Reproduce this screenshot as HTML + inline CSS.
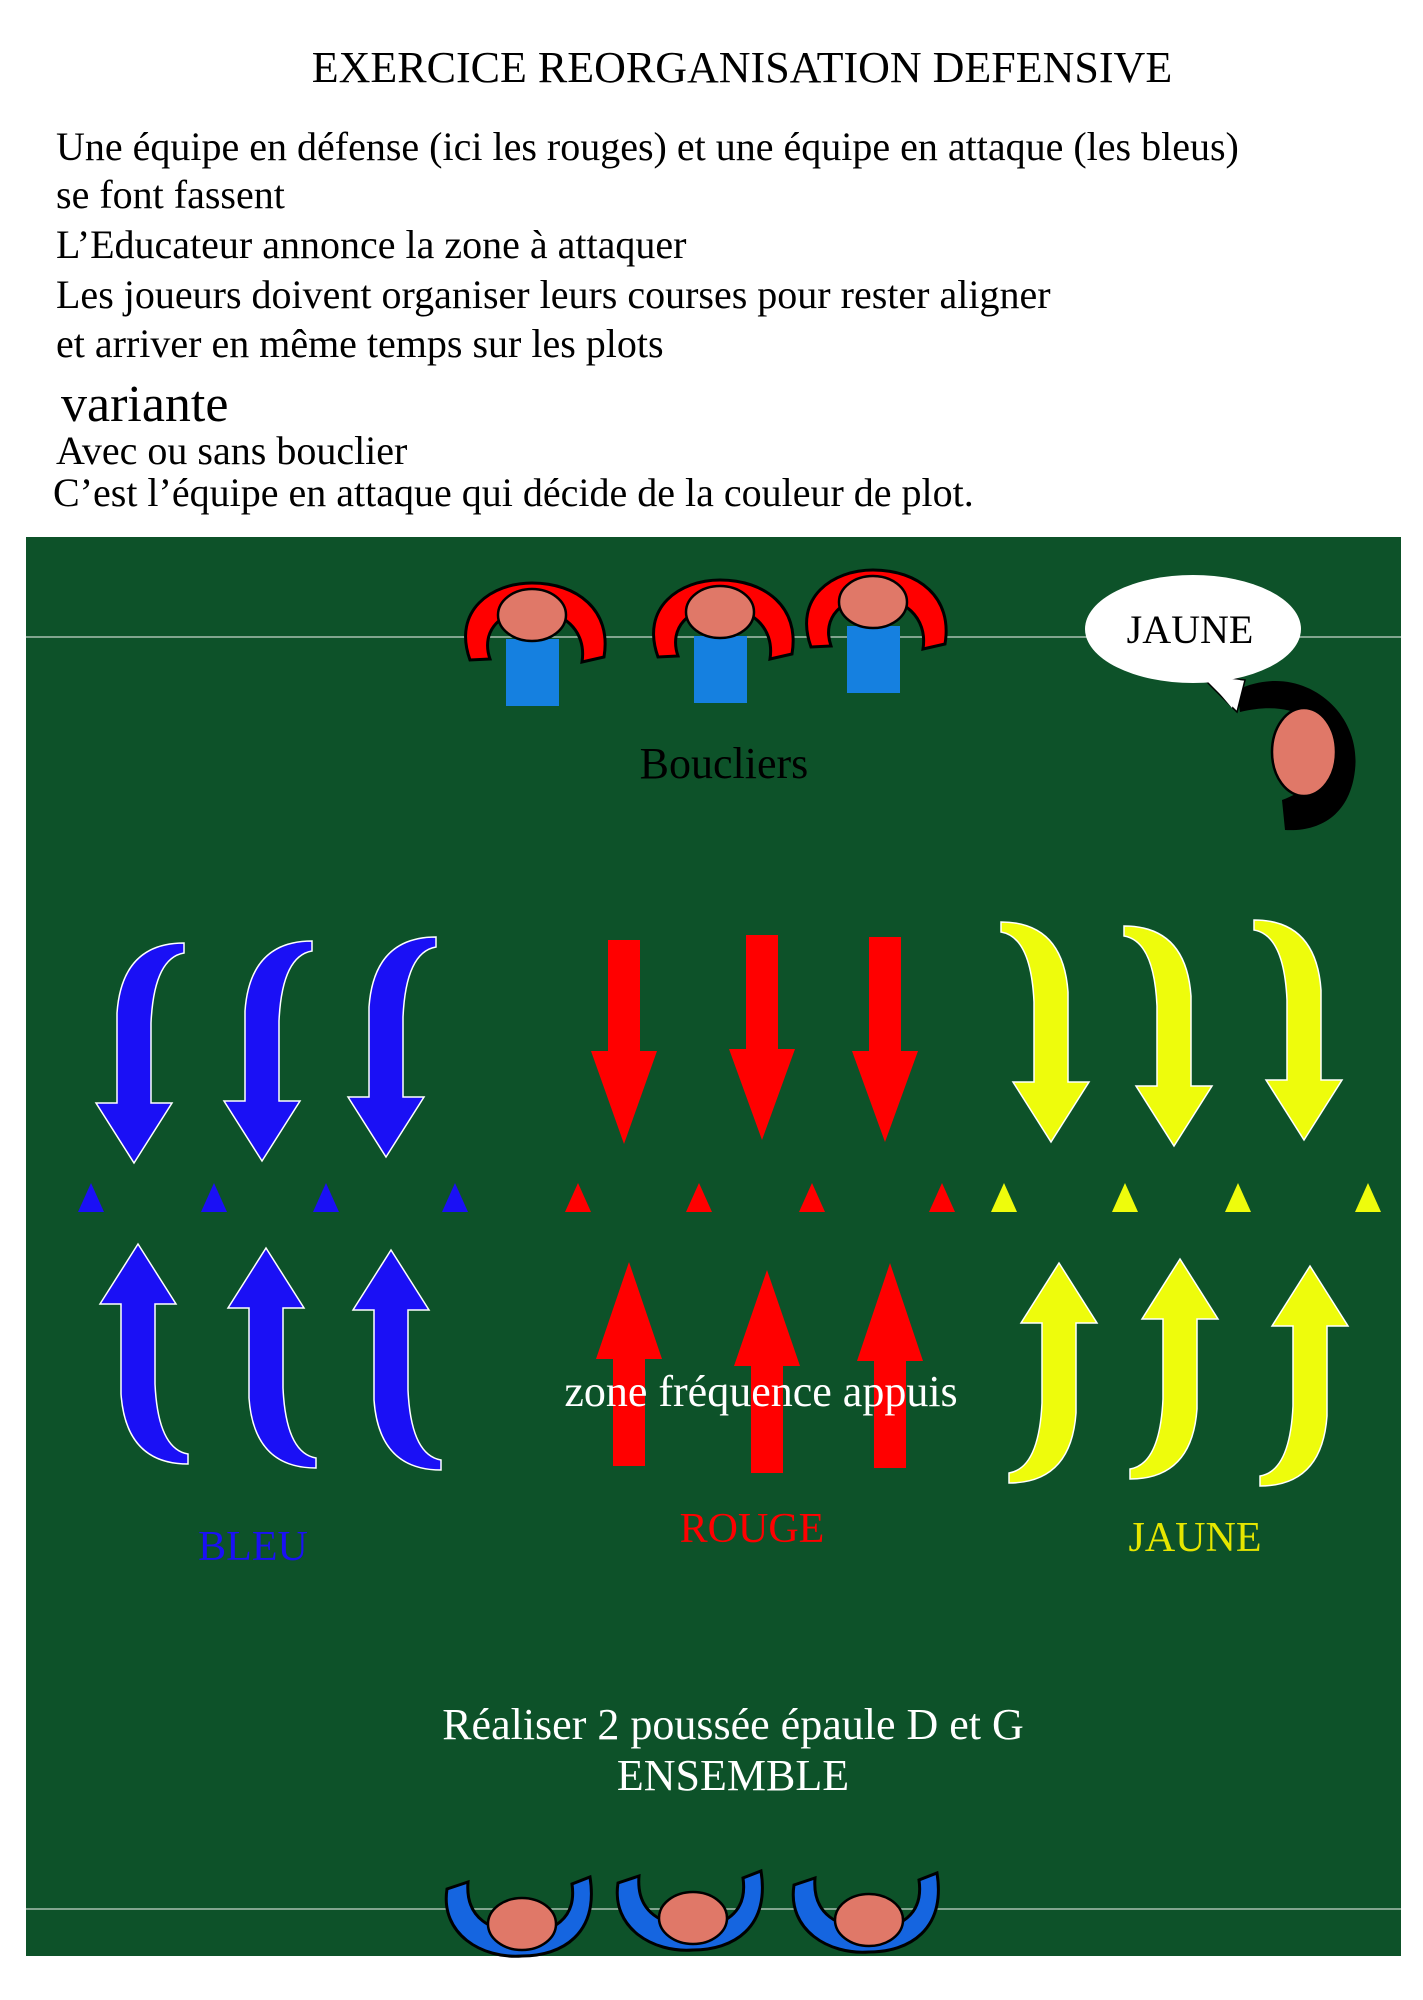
<!DOCTYPE html>
<html><head><meta charset="utf-8"><style>
html,body{margin:0;padding:0;background:#fff;}
svg{display:block;}
text{font-family:"Liberation Serif",serif;}
</style></head><body>
<svg width="1423" height="2000" viewBox="0 0 1423 2000" xmlns="http://www.w3.org/2000/svg">
<text x="742" y="82" font-size="44" text-anchor="middle" fill="#000">EXERCICE REORGANISATION DEFENSIVE</text>
<g font-size="40" fill="#000">
<text x="56" y="160">Une équipe en défense (ici les rouges) et une équipe en attaque (les bleus)</text>
<text x="56" y="208">se font fassent</text>
<text x="56" y="258">L’Educateur annonce la zone à attaquer</text>
<text x="56" y="308">Les joueurs doivent organiser leurs courses pour rester aligner</text>
<text x="56" y="357">et arriver en même temps sur les plots</text>
<text x="61" y="421" font-size="52">variante</text>
<text x="56" y="464">Avec ou sans bouclier</text>
<text x="53" y="506">C’est l’équipe en attaque qui décide de la couleur de plot.</text>
</g>
<rect x="26" y="537" width="1375" height="1419" fill="#0d5229"/>
<line x1="26" y1="637" x2="1401" y2="637" stroke="#a8c0b0" stroke-width="1.5"/>
<line x1="26" y1="1909" x2="1401" y2="1909" stroke="#a8c0b0" stroke-width="1.5"/>
<defs>
<g id="rp">
<rect x="-26" y="24" width="53" height="67" fill="#1580e0"/>
<path d="M -62,45 C -80,-5 -40,-32 0,-32 C 45,-32 80,-5 72,42 L 50,47 C 55,15 30,-5 0,-5 C -30,-5 -52,15 -42,44 Z" fill="#f00" stroke="#000" stroke-width="3"/>
<ellipse cx="0" cy="0" rx="34" ry="26" fill="#e07868" stroke="#000" stroke-width="2.5"/>
</g>
<g id="bp">
<path d="M -75,-35 C -82,10 -40,35 0,32 C 40,32 77,10 68,-47 L 50,-40 C 55,-5 30,10 0,8 C -30,8 -57,-5 -54,-42 Z" fill="#1565e0" stroke="#000" stroke-width="3"/>
<ellipse cx="0" cy="0" rx="34" ry="26" fill="#e07868" stroke="#000" stroke-width="2.5"/>
</g>
<path id="ca" d="M 50,-220 L 50,-210 Q 20,-205 17,-140 L 17,-60 L 38,-60 L 0,0 L -38,-60 L -17,-60 L -17,-150 Q -12,-220 50,-220 Z"/>
</defs>
<use href="#rp" transform="translate(532,615)"/>
<use href="#rp" transform="translate(720,612)"/>
<use href="#rp" transform="translate(873,602)"/>
<text x="724" y="778" font-size="44" text-anchor="middle" fill="#000">Boucliers</text>
<path d="M 1237,690 C 1300,660 1362,710 1355,770 C 1350,815 1320,832 1285,830 L 1282,800 C 1310,790 1325,770 1320,740 C 1315,712 1280,702 1240,712 Z" fill="#000"/>
<ellipse cx="1304" cy="752" rx="32" ry="44" fill="#e07868" stroke="#000" stroke-width="2.5"/>
<path d="M 1200,675 L 1237,712 L 1245,680 Z" fill="#fff" stroke="#000" stroke-width="1.5"/>
<ellipse cx="1193" cy="629" rx="108" ry="54" fill="#fff"/>
<path d="M 1205,676 L 1232,708 L 1240,680 Z" fill="#fff"/>
<text x="1190" y="643" font-size="40" text-anchor="middle" fill="#000">JAUNE</text>
<g fill="#1a10f5" stroke="#fff" stroke-width="1.5">
<use href="#ca" transform="translate(134,1163)"/>
<use href="#ca" transform="translate(262,1161)"/>
<use href="#ca" transform="translate(386,1157)"/>
<use href="#ca" transform="translate(138,1244) scale(1,-1)"/>
<use href="#ca" transform="translate(266,1248) scale(1,-1)"/>
<use href="#ca" transform="translate(391,1250) scale(1,-1)"/>
</g>
<g fill="#eefc0c" stroke="#fff" stroke-width="1.5">
<use href="#ca" transform="translate(1051,1142) scale(-1,1)"/>
<use href="#ca" transform="translate(1174,1146) scale(-1,1)"/>
<use href="#ca" transform="translate(1304,1140) scale(-1,1)"/>
<use href="#ca" transform="translate(1059,1263) scale(-1,-1)"/>
<use href="#ca" transform="translate(1180,1259) scale(-1,-1)"/>
<use href="#ca" transform="translate(1310,1266) scale(-1,-1)"/>
</g>
<g fill="#ff0000">
<rect x="608" y="940" width="32" height="112"/><polygon points="591,1051 657,1051 624,1144"/>
<rect x="746" y="935" width="32" height="115"/><polygon points="729,1049 795,1049 762,1140"/>
<rect x="869" y="937" width="32" height="115"/><polygon points="852,1051 918,1051 885,1142"/>
<rect x="613" y="1358" width="32" height="108"/><polygon points="596,1359 662,1359 629,1262"/>
<rect x="751" y="1365" width="32" height="108"/><polygon points="734,1366 800,1366 767,1270"/>
<rect x="874" y="1360" width="32" height="108"/><polygon points="857,1361 923,1361 890,1263"/>
</g>
<g fill="#1a10f5">
<polygon points="78,1212 104,1212 91,1183"/><polygon points="201,1212 227,1212 214,1183"/>
<polygon points="313,1212 339,1212 326,1183"/><polygon points="442,1212 468,1212 455,1183"/>
</g>
<g fill="#ff0000">
<polygon points="565,1212 591,1212 578,1183"/><polygon points="686,1212 712,1212 699,1183"/>
<polygon points="799,1212 825,1212 812,1183"/><polygon points="929,1212 955,1212 942,1183"/>
</g>
<g fill="#eefc0c">
<polygon points="991,1212 1017,1212 1004,1183"/><polygon points="1112,1212 1138,1212 1125,1183"/>
<polygon points="1225,1212 1251,1212 1238,1183"/><polygon points="1355,1212 1381,1212 1368,1183"/>
</g>
<text x="761" y="1406" font-size="44" text-anchor="middle" fill="#fff">zone fréquence appuis</text>
<text x="253" y="1560" font-size="42" text-anchor="middle" fill="#1a10f5">BLEU</text>
<text x="752" y="1542" font-size="42" text-anchor="middle" fill="#ff0000">ROUGE</text>
<text x="1195" y="1551" font-size="42" text-anchor="middle" fill="#e6e600">JAUNE</text>
<text x="733" y="1739" font-size="44" text-anchor="middle" fill="#fff">Réaliser 2 poussée épaule D et G</text>
<text x="733" y="1790" font-size="44" text-anchor="middle" fill="#fff">ENSEMBLE</text>
<use href="#bp" transform="translate(522,1924)"/>
<use href="#bp" transform="translate(693,1918)"/>
<use href="#bp" transform="translate(869,1920)"/>
</svg>
</body></html>
